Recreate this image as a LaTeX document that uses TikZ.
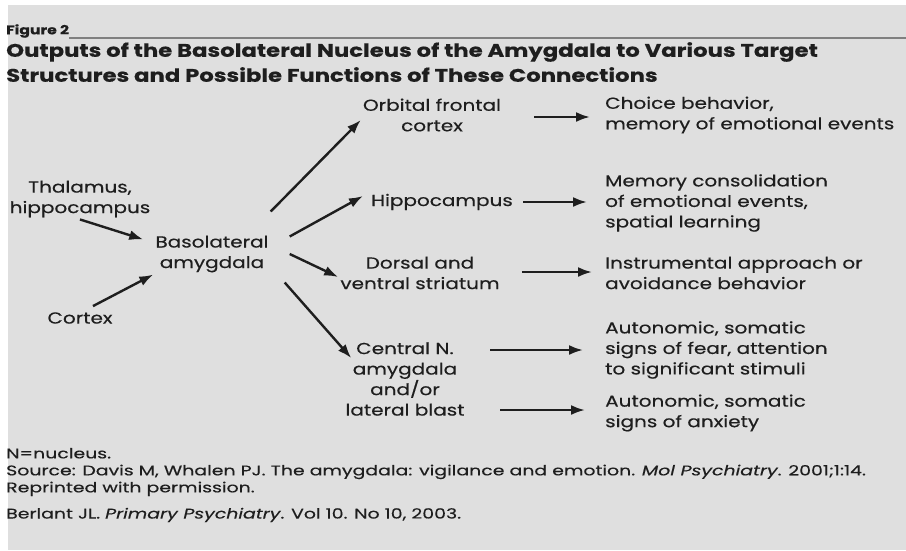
\documentclass[tikz,border=0pt]{standalone}
\usepackage{fontspec}
\setmainfont[FakeStretch=1.25, FakeBold=0.4]{Poppins}
\newfontfamily\footfont[FakeStretch=1.35, FakeBold=0.3]{Poppins}
\usetikzlibrary{arrows.meta,calc}
\definecolor{paper}{HTML}{DFDFDF}
\definecolor{ink}{HTML}{1E1E1E}
\tikzset{
  lbl/.style={text=ink, font=\fontsize{16}{20.5}\selectfont, inner sep=2pt},
  ctr/.style={lbl, align=center},
  lft/.style={lbl, align=left, anchor=west},
  arr/.style={draw=ink, line width=2.4pt, -{Latex[length=14pt,width=10pt]}},
  foot/.style={text=ink, anchor=west, align=left, inner sep=0pt, font=\footfont\fontsize{14}{17}\selectfont},
}
\begin{document}
\begin{tikzpicture}[x=1pt, y=-1pt]
  % 1. Nền
  \fill[white] (0,0) rectangle (906,550);
  \fill[paper] (8,5) rectangle (906,550);
  \useasboundingbox (0,0) rectangle (906,550);

  % 2. Tiêu đề
  \node[anchor=west, inner sep=0pt, text=ink, font=\bfseries\fontsize{12.5}{14}\selectfont] (fig) at (6,31) {Figure 2};
  \coordinate (ruleend) at (906,38);
  \draw[gray, line width=1.5pt] (fig.east |- ruleend) -- (ruleend);
  \node[anchor=north west, inner sep=0pt, text=ink, align=left,
        font=\bfseries\fontsize{18.2}{25}\selectfont] (title) at (6,42)
    {Outputs of the Basolateral Nucleus of the Amygdala to Various Target\\
     Structures and Possible Functions of These Connections};

  % 3. Đầu vào và nhân đáy bên
  \node[ctr] (thal) at (80,199) {Thalamus,\\hippocampus};
  \node[ctr] (cortex) at (80,318) {Cortex};
  \node[ctr] (baso) at (212,254) {Basolateral\\amygdala};

  % 4. Cấu trúc đích
  \node[ctr] (ofc) at (432,115) {Orbital frontal\\cortex};
  \node[ctr] (hip) at (442,202) {Hippocampus};
  \node[ctr] (stri) at (420,273) {Dorsal and\\ventral striatum};
  \node[ctr] (cen) at (405,379) {Central N.\\amygdala\\and/or\\lateral blast};

  % 5. Chức năng
  \node[lft] (choice) at (603,115) {Choice behavior,\\memory of emotional events};
  \node[lft] (mem) at (603,203) {Memory consolidation\\of emotional events,\\spatial learning};
  \node[lft] (instr) at (603,273) {Instrumental approach or\\avoidance behavior};
  \node[lft] (auton1) at (603,350) {Autonomic, somatic\\signs of fear, attention\\to significant stimuli};
  \node[lft] (auton2) at (603,413) {Autonomic, somatic\\signs of anxiety};

  % 6. Mũi tên
  \draw[arr] (thal.south) -- ([xshift=-10pt,yshift=-6pt]baso.north west);
  \draw[arr] ([xshift=13pt,yshift=4pt]cortex.north) -- (baso.south west);
  \draw[arr] ([yshift=22pt]baso.north east) -- ([yshift=-5pt]ofc.west);
  \draw[arr] ([xshift=19pt,yshift=-3pt]baso.north east) -- ([xshift=-6pt,yshift=6pt]hip.west);
  \draw[arr] ([xshift=19pt]baso.east) -- ([yshift=-4pt]stri.west);
  \draw[arr] ([xshift=14pt,yshift=-8pt]baso.south east) -- ([xshift=8pt,yshift=-18pt]cen.north west);
  \draw[arr] ($(ofc.east)+(31,2)$) -- ($(choice.west)+(-13,2)$);
  \draw[arr] ($(hip.east)+(8,0)$) -- ($(mem.west |- hip.east)+(-16,0)$);
  \draw[arr] ($(stri.east)+(20,-1)$) -- ($(instr.west)+(-11,-1)$);
  \draw[arr] ($(auton1.west)+(-113,0)$) -- ($(auton1.west)+(-20,0)$);
  \draw[arr] ($(auton2.west)+(-103,-3)$) -- ($(auton2.west)+(-18,-3)$);

  % 7. Chú thích
  \node[foot] (notes) at (6,472)
    {N=nucleus.\\
     Source: Davis M, Whalen PJ. The amygdala: vigilance and emotion. \textit{Mol Psychiatry}. 2001;1:14.\\
     Reprinted with permission.};
  \node[foot] (cite) at (6,515) {Berlant JL. \textit{Primary Psychiatry}. Vol 10. No 10, 2003.};
\end{tikzpicture}
\end{document}
